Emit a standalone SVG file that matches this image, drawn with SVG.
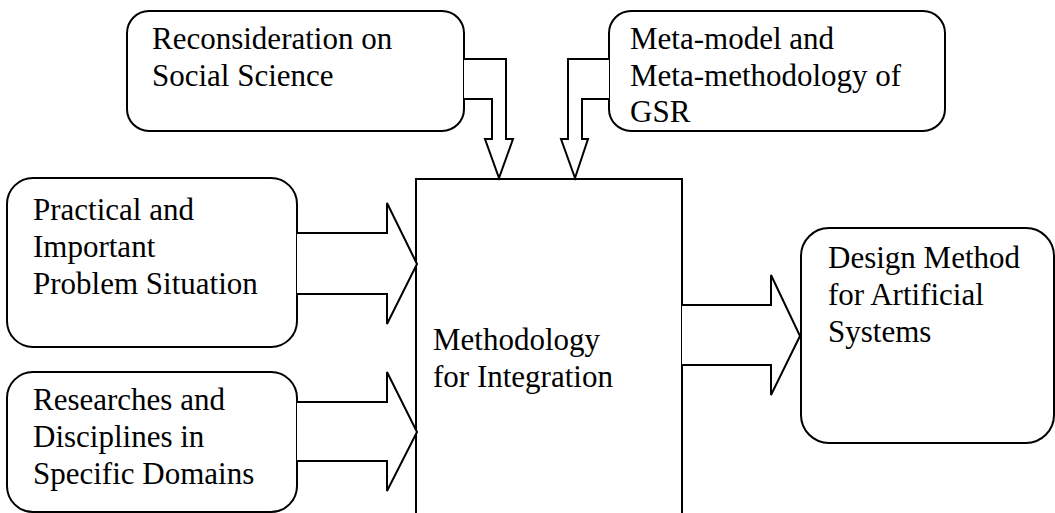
<svg xmlns="http://www.w3.org/2000/svg" width="1055" height="513" viewBox="0 0 1055 513">
<style>
.box{fill:#fff;stroke:#000;stroke-width:2}
.arr{fill:#fff;stroke:#000;stroke-width:2;stroke-linejoin:miter}
text{font-family:"Liberation Serif","Times New Roman",serif;font-size:31px;fill:#000}
</style>
<rect width="1055" height="513" fill="#fff"/>
<g id="main">
<rect class="box" x="416" y="179" width="266" height="360"/>
<text x="433" y="350">Methodology</text>
<text x="433" y="387">for Integration</text>
</g>
<g id="n-reconsideration">
<rect class="box" x="127" y="11" width="337" height="120" rx="22"/>
<text x="152" y="49">Reconsideration on</text>
<text x="152" y="86">Social Science</text>
</g>
<g id="n-meta">
<rect class="box" x="609" y="11" width="336" height="120" rx="22"/>
<text x="630" y="49">Meta-model and</text>
<text x="630" y="86">Meta-methodology of</text>
<text x="630" y="122">GSR</text>
</g>
<g id="n-practical">
<rect class="box" x="7" y="178" width="290" height="169" rx="26"/>
<text x="33" y="220">Practical and</text>
<text x="33" y="257">Important</text>
<text x="33" y="294">Problem Situation</text>
</g>
<g id="n-researches">
<rect class="box" x="7" y="372" width="290" height="140" rx="26"/>
<text x="33" y="410">Researches and</text>
<text x="33" y="447">Disciplines in</text>
<text x="33" y="484">Specific Domains</text>
</g>
<g id="n-design">
<rect class="box" x="801" y="228" width="253" height="215" rx="28"/>
<text x="828" y="268">Design Method</text>
<text x="828" y="305">for Artificial</text>
<text x="828" y="342">Systems</text>
</g>
<g id="connectors">
<polyline class="arr" points="464,59 506,59 506,139 513,139 499,178 485,139 492,139 492,99 464,99"/>
<polyline class="arr" points="609,59 568,59 568,139 561,139 575,178 588,139 582,139 582,99 609,99"/>
<polyline class="arr" points="297,233 387,233 387,203 417,264 387,324 387,294 297,294"/>
<polyline class="arr" points="297,402 387,402 387,372 417,432 387,491 387,461 297,461"/>
<polyline class="arr" points="682,305 771,305 771,275 800,336 771,395 771,365 682,365"/>
</g>
</svg>
